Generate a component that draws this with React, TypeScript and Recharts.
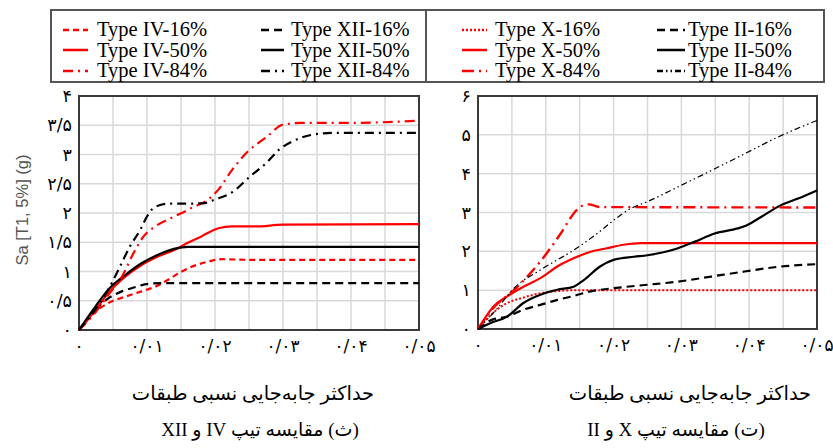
import React from 'react';
import { LineChart, Line, XAxis, YAxis, CartesianGrid, ReferenceArea } from 'recharts';

// ---- data: [drift, Sa] pairs ----
const typeIV16 = [[0, 0], [0.0024, 0.31], [0.0043, 0.46], [0.0068, 0.57], [0.0092, 0.66], [0.0112, 0.74], [0.0131, 0.86], [0.0151, 1.0], [0.017, 1.1], [0.019, 1.17], [0.021, 1.21], [0.025, 1.2], [0.05, 1.2]];
const typeXII16 = [[0, 0], [0.0024, 0.34], [0.0043, 0.54], [0.0063, 0.66], [0.0082, 0.73], [0.0102, 0.79], [0.012, 0.8], [0.05, 0.8]];
const typeIV50 = [[0, 0], [0.0024, 0.34], [0.0043, 0.63], [0.0068, 0.91], [0.0092, 1.11], [0.0117, 1.26], [0.0141, 1.37], [0.016, 1.49], [0.018, 1.6], [0.0205, 1.74], [0.0225, 1.77], [0.026, 1.77], [0.03, 1.8], [0.05, 1.81]];
const typeXII50 = [[0, 0], [0.0024, 0.4], [0.0043, 0.69], [0.0068, 0.94], [0.0092, 1.14], [0.0117, 1.29], [0.0141, 1.39], [0.016, 1.42], [0.05, 1.42]];
const typeIV84 = [[0, 0], [0.0024, 0.3], [0.0043, 0.6], [0.0063, 0.91], [0.008, 1.31], [0.0095, 1.6], [0.0112, 1.77], [0.0131, 1.89], [0.0151, 2.0], [0.0166, 2.09], [0.019, 2.23], [0.0205, 2.4], [0.0226, 2.75], [0.0249, 3.06], [0.0275, 3.29], [0.03, 3.51], [0.0325, 3.54], [0.04, 3.54], [0.05, 3.58]];
const typeXII84 = [[0, 0], [0.0024, 0.35], [0.0043, 0.69], [0.0058, 1.03], [0.0075, 1.43], [0.009, 1.71], [0.01, 1.94], [0.011, 2.09], [0.0131, 2.16], [0.0156, 2.16], [0.0185, 2.17], [0.02, 2.23], [0.0226, 2.36], [0.0251, 2.62], [0.0275, 2.85], [0.0295, 3.09], [0.0315, 3.23], [0.0344, 3.34], [0.0374, 3.37], [0.05, 3.37]];

const typeX16 = [[0, 0], [0.002, 0.38], [0.0043, 0.67], [0.0065, 0.8], [0.0092, 0.92], [0.012, 0.98], [0.015, 1.0], [0.05, 1.0]];
const typeII16 = [[0, 0], [0.0018, 0.22], [0.0043, 0.32], [0.0067, 0.5], [0.0092, 0.62], [0.0117, 0.75], [0.0141, 0.85], [0.0166, 0.97], [0.019, 1.03], [0.0215, 1.08], [0.025, 1.14], [0.0295, 1.22], [0.0344, 1.35], [0.0393, 1.48], [0.0442, 1.6], [0.05, 1.67]];
const typeX50 = [[0, 0], [0.0023, 0.58], [0.0043, 0.84], [0.0067, 1.09], [0.0092, 1.31], [0.0117, 1.61], [0.0141, 1.82], [0.0166, 1.99], [0.019, 2.08], [0.0215, 2.17], [0.024, 2.21], [0.05, 2.21]];
const typeII50 = [[0, 0], [0.0018, 0.15], [0.0043, 0.32], [0.0067, 0.67], [0.0092, 0.88], [0.0117, 1.01], [0.0141, 1.09], [0.0156, 1.26], [0.018, 1.61], [0.02, 1.78], [0.023, 1.86], [0.025, 1.9], [0.0295, 2.08], [0.032, 2.25], [0.0349, 2.46], [0.0383, 2.59], [0.0395, 2.66], [0.0418, 2.89], [0.0447, 3.19], [0.0472, 3.36], [0.05, 3.57]];
const typeX84 = [[0, 0], [0.0023, 0.55], [0.0053, 1.0], [0.0092, 1.74], [0.0122, 2.46], [0.0141, 2.97], [0.0151, 3.15], [0.0163, 3.21], [0.018, 3.14], [0.05, 3.13]];
const typeII84 = [[0, 0], [0.0027, 0.5], [0.0053, 1.05], [0.0092, 1.52], [0.0141, 2.03], [0.0176, 2.46], [0.02, 2.8], [0.0225, 3.1], [0.025, 3.28], [0.0295, 3.66], [0.0344, 4.08], [0.0393, 4.51], [0.0442, 4.94], [0.05, 5.37]];

// ---- ticks ----
const xTicks = [0, 0.005, 0.01, 0.015, 0.02, 0.025, 0.03, 0.035, 0.04, 0.045, 0.05];
const xTickLabels = ['۰', '', '۰/۰۱', '', '۰/۰۲', '', '۰/۰۳', '', '۰/۰۴', '', '۰/۰۵'];
const yTicksLeft = [0, 0.5, 1, 1.5, 2, 2.5, 3, 3.5, 4];
const yTickLabelsLeft = ['۰', '۰/۵', '۱', '۱/۵', '۲', '۲/۵', '۳', '۳/۵', '۴'];
const yTicksRight = [0, 1, 2, 3, 4, 5, 6];
const yTickLabelsRight = ['۰', '۱', '۲', '۳', '۴', '۵', '۶'];

const xTitle = 'حداکثر جابه‌جایی نسبی طبقات';
const captionLeft = '(ث) مقایسه تیپ IV و XII';
const captionRight = '(ت) مقایسه تیپ X و II';
const yTitle = 'Sa [T1, 5%] (g)';

const RED = '#ff0000';
const BLACK = '#000000';
const GRID = '#d9d9d9';
const FRAME = '#3a3a3a';
const FA_FONT = "'DejaVu Sans', sans-serif";
const SERIF = "'Liberation Serif', 'DejaVu Sans', serif";

const toPts = (a: number[][]) => a.map(([x, y]) => ({ x, y }));

interface SeriesDef {
  name: string;
  data: number[][];
  color: string;
  dash?: string;
  width: number;
}

const leftSeries: SeriesDef[] = [
  { name: 'Type IV-16%', data: typeIV16, color: RED, dash: '6 4', width: 2.2 },
  { name: 'Type XII-16%', data: typeXII16, color: BLACK, dash: '8 5', width: 2.2 },
  { name: 'Type IV-50%', data: typeIV50, color: RED, width: 2.2 },
  { name: 'Type XII-50%', data: typeXII50, color: BLACK, width: 2.2 },
  { name: 'Type IV-84%', data: typeIV84, color: RED, dash: '10 5 2 5', width: 2.2 },
  { name: 'Type XII-84%', data: typeXII84, color: BLACK, dash: '9 5 2 5', width: 2.2 },
];

const rightSeries: SeriesDef[] = [
  { name: 'Type X-16%', data: typeX16, color: RED, dash: '2 2', width: 2 },
  { name: 'Type II-16%', data: typeII16, color: BLACK, dash: '8 5', width: 2.2 },
  { name: 'Type X-50%', data: typeX50, color: RED, width: 2.2 },
  { name: 'Type II-50%', data: typeII50, color: BLACK, width: 2.2 },
  { name: 'Type X-84%', data: typeX84, color: RED, dash: '12 5 2 5', width: 2.4 },
  { name: 'Type II-84%', data: typeII84, color: BLACK, dash: '6 3 1.5 3 1.5 3', width: 1.2 },
];

const makeXTick = (labels: string[]) => (props: any) => {
  const { x, y, index } = props;
  const label = labels[index];
  if (!label) return <g />;
  return (
    <text x={x} y={y + 22} textAnchor="middle" fontSize={17} fontFamily={FA_FONT} fill="#000">
      {label}
    </text>
  );
};

const makeYTick = (labels: string[]) => (props: any) => {
  const { x, y, index } = props;
  return (
    <text x={x - 7} y={y + 6} textAnchor="end" fontSize={17.5} fontFamily={FA_FONT} fill="#000">
      {labels[index]}
    </text>
  );
};

interface PanelProps {
  series: SeriesDef[];
  yMax: number;
  yTicks: number[];
  yLabels: string[];
  width: number;
  yAxisWidth: number;
  rightMargin: number;
  plotBottom: number;
  showYTitle?: boolean;
}

const Panel: React.FC<PanelProps> = ({ series, yMax, yTicks, yLabels, width, yAxisWidth, rightMargin, plotBottom, showYTitle }) => {
  const height = 370;
  return (
    <LineChart width={width} height={height} margin={{ top: 96, right: rightMargin, bottom: 0, left: 0 }}>
      <CartesianGrid stroke={GRID} strokeWidth={1.5} />
      <XAxis
        type="number"
        dataKey="x"
        domain={[0, 0.05]}
        ticks={xTicks}
        interval={0}
        axisLine={false}
        tickLine={false}
        tickSize={0}
        tickMargin={0}
        height={height - plotBottom}
        tick={makeXTick(xTickLabels)}
      />
      <YAxis
        type="number"
        domain={[0, yMax]}
        ticks={yTicks}
        interval={0}
        axisLine={false}
        tickLine={false}
        tickSize={0}
        tickMargin={0}
        width={yAxisWidth}
        tick={makeYTick(yLabels)}
        label={
          showYTitle
            ? {
                content: () => (
                  <text
                    x={24}
                    y={210}
                    transform="rotate(-90, 24, 210)"
                    textAnchor="middle"
                    dominantBaseline="middle"
                    fontSize={16.5}
                    fontFamily="'Liberation Sans', Arial, sans-serif"
                    fill="#555"
                  >
                    {yTitle}
                  </text>
                ),
              }
            : undefined
        }
      />
      <ReferenceArea x1={0} x2={0.05} y1={0} y2={yMax} fill="none" stroke={FRAME} strokeWidth={2} />
      {series.map((s) => (
        <Line
          key={s.name}
          data={toPts(s.data)}
          dataKey="y"
          type="monotone"
          stroke={s.color}
          strokeWidth={s.width}
          strokeDasharray={s.dash}
          dot={false}
          activeDot={false}
          isAnimationActive={false}
        />
      ))}
    </LineChart>
  );
};

const LegendItem: React.FC<{ s: SeriesDef; left: number; top: number; sampleW: number; gap: number }> = ({ s, left, top, sampleW, gap }) => (
  <div style={{ position: 'absolute', left, top, height: 21, display: 'flex', alignItems: 'center', whiteSpace: 'nowrap' }}>
    <svg width={sampleW} height={10} style={{ marginRight: gap }}>
      <line x1={0} y1={5} x2={sampleW} y2={5} stroke={s.color} strokeWidth={2.5} strokeDasharray={s.dash} />
    </svg>
    <span style={{ fontFamily: SERIF, fontSize: 20.5, lineHeight: '21px', color: '#000' }}>{s.name}</span>
  </div>
);

// legend rows follow the column order: 16%, 50%, 84%
const rowTops = [8, 28.5, 49];

const Legend: React.FC = () => {
  const leftRed = [leftSeries[0], leftSeries[2], leftSeries[4]];
  const leftBlack = [leftSeries[1], leftSeries[3], leftSeries[5]];
  const rightRed = [rightSeries[0], rightSeries[2], rightSeries[4]];
  const rightBlack = [rightSeries[1], rightSeries[3], rightSeries[5]];
  return (
    <div
      style={{
        position: 'absolute',
        left: 50,
        top: 9,
        width: 775,
        height: 74,
        border: '2px solid #555',
        boxSizing: 'border-box',
      }}
    >
      <div style={{ position: 'absolute', left: 373, top: 0, width: 2, height: 70, background: '#555' }} />
      {leftRed.map((s, i) => <LegendItem key={s.name} s={s} left={11} top={rowTops[i]} sampleW={25} gap={9} />)}
      {leftBlack.map((s, i) => <LegendItem key={s.name} s={s} left={209} top={rowTops[i]} sampleW={23} gap={7} />)}
      {rightRed.map((s, i) => <LegendItem key={s.name} s={s} left={410} top={rowTops[i]} sampleW={25} gap={8} />)}
      {rightBlack.map((s, i) => <LegendItem key={s.name} s={s} left={605} top={rowTops[i]} sampleW={28} gap={3} />)}
    </div>
  );
};

const CenteredText: React.FC<{ text: string; cx: number; cy: number; size: number }> = ({ text, cx, cy, size }) => (
  <div
    style={{
      position: 'absolute',
      left: cx - 200,
      top: cy - 14,
      width: 400,
      height: 28,
      lineHeight: '28px',
      textAlign: 'center',
      direction: 'rtl',
      fontFamily: SERIF,
      fontSize: size,
      color: '#000',
      whiteSpace: 'nowrap',
    }}
  >
    {text}
  </div>
);

export default function App() {
  return (
    <div style={{ position: 'absolute', left: 0, top: 0, width: 833, height: 448, background: '#fff', overflow: 'hidden' }}>
      <div style={{ position: 'absolute', left: 0, top: 0 }}>
        <Panel
          series={leftSeries}
          yMax={4}
          yTicks={yTicksLeft}
          yLabels={yTickLabelsLeft}
          width={450}
          yAxisWidth={79}
          rightMargin={31}
          plotBottom={330}
          showYTitle
        />
      </div>
      <div style={{ position: 'absolute', left: 420, top: 0 }}>
        <Panel
          series={rightSeries}
          yMax={6}
          yTicks={yTicksRight}
          yLabels={yTickLabelsRight}
          width={413}
          yAxisWidth={58}
          rightMargin={16}
          plotBottom={329}
        />
      </div>
      <Legend />
      <CenteredText text={xTitle} cx={253} cy={394} size={19.5} />
      <CenteredText text={xTitle} cx={690} cy={394} size={19.5} />
      <CenteredText text={captionLeft} cx={260} cy={430} size={19} />
      <CenteredText text={captionRight} cx={676} cy={430} size={19} />
    </div>
  );
}
